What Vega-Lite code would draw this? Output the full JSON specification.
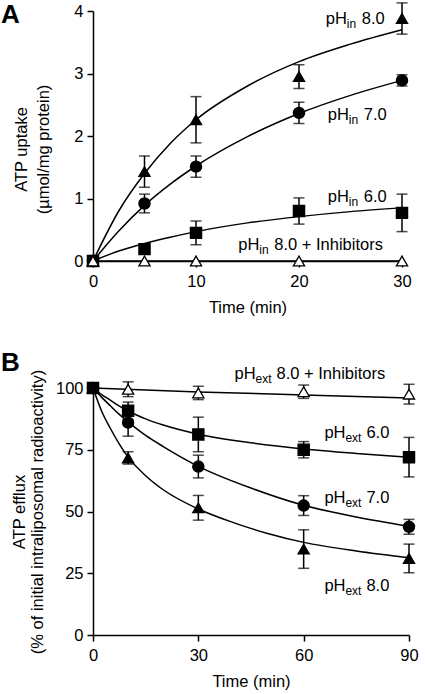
{
  "$schema": "https://vega.github.io/schema/vega-lite/v6.json",
  "padding": {"left": 1, "top": 2, "right": 4, "bottom": 2},
  "background": "white",
  "spacing": 127,
  "bounds": "flush",
  "config": {
    "view": {"stroke": null},
    "font": "Liberation Sans",
    "axis": {"domainColor": "black", "domainWidth": 1.5, "tickColor": "black", "tickWidth": 1.5, "tickSize": 6, "labelColor": "black", "labelFontSize": 16.5, "labelFont": "Liberation Sans", "labelFlush": false, "titleColor": "black", "titleFontSize": 16.5, "titleFont": "Liberation Sans", "titleFontWeight": "normal", "grid": false},
    "title": {"font": "Liberation Sans", "fontSize": 26, "fontWeight": "bold", "anchor": "start", "frame": "group", "color": "black"}
  },
  "datasets": {
    "up": [
      {"t": 0, "v": 0, "err": 0, "series": "pH 8.0"},
      {"t": 5, "v": 1.43, "err": 0.25, "series": "pH 8.0"},
      {"t": 10, "v": 2.26, "err": 0.37, "series": "pH 8.0"},
      {"t": 20, "v": 2.95, "err": 0.19, "series": "pH 8.0"},
      {"t": 30, "v": 3.88, "err": 0.25, "series": "pH 8.0"},
      {"t": 0, "v": 0, "err": 0, "series": "pH 7.0"},
      {"t": 5, "v": 0.92, "err": 0.15, "series": "pH 7.0"},
      {"t": 10, "v": 1.51, "err": 0.17, "series": "pH 7.0"},
      {"t": 20, "v": 2.37, "err": 0.17, "series": "pH 7.0"},
      {"t": 30, "v": 2.89, "err": 0.09, "series": "pH 7.0"},
      {"t": 0, "v": 0, "err": 0, "series": "pH 6.0"},
      {"t": 5, "v": 0.19, "err": 0.05, "series": "pH 6.0"},
      {"t": 10, "v": 0.45, "err": 0.19, "series": "pH 6.0"},
      {"t": 20, "v": 0.8, "err": 0.21, "series": "pH 6.0"},
      {"t": 30, "v": 0.77, "err": 0.3, "series": "pH 6.0"},
      {"t": 0, "v": 0, "err": 0, "series": "Inhibitors"},
      {"t": 5, "v": 0, "err": 0, "series": "Inhibitors"},
      {"t": 10, "v": 0, "err": 0, "series": "Inhibitors"},
      {"t": 20, "v": 0, "err": 0, "series": "Inhibitors"},
      {"t": 30, "v": 0, "err": 0, "series": "Inhibitors"}
    ],
    "upFit": [
      {"t": 0, "v": 0, "series": "pH 8.0"}, {"t": 2.5, "v": 0.8, "series": "pH 8.0"}, {"t": 5, "v": 1.4, "series": "pH 8.0"}, {"t": 7.5, "v": 1.88, "series": "pH 8.0"}, {"t": 10, "v": 2.26, "series": "pH 8.0"}, {"t": 15, "v": 2.8, "series": "pH 8.0"}, {"t": 20, "v": 3.19, "series": "pH 8.0"}, {"t": 25, "v": 3.47, "series": "pH 8.0"}, {"t": 30, "v": 3.7, "series": "pH 8.0"},
      {"t": 0, "v": 0, "series": "pH 7.0"}, {"t": 2.5, "v": 0.48, "series": "pH 7.0"}, {"t": 5, "v": 0.89, "series": "pH 7.0"}, {"t": 7.5, "v": 1.23, "series": "pH 7.0"}, {"t": 10, "v": 1.52, "series": "pH 7.0"}, {"t": 15, "v": 1.99, "series": "pH 7.0"}, {"t": 20, "v": 2.36, "series": "pH 7.0"}, {"t": 25, "v": 2.65, "series": "pH 7.0"}, {"t": 30, "v": 2.89, "series": "pH 7.0"},
      {"t": 0, "v": 0, "series": "pH 6.0"}, {"t": 2.5, "v": 0.16, "series": "pH 6.0"}, {"t": 5, "v": 0.28, "series": "pH 6.0"}, {"t": 7.5, "v": 0.38, "series": "pH 6.0"}, {"t": 10, "v": 0.47, "series": "pH 6.0"}, {"t": 15, "v": 0.61, "series": "pH 6.0"}, {"t": 20, "v": 0.71, "series": "pH 6.0"}, {"t": 25, "v": 0.79, "series": "pH 6.0"}, {"t": 30, "v": 0.85, "series": "pH 6.0"},
      {"t": 0, "v": 0, "series": "Inhibitors"}, {"t": 30, "v": 0, "series": "Inhibitors"}
    ],
    "upLabels": [
      {"t": 22.6, "v": 3.79, "sub": "in", "post": "8.0"},
      {"t": 22.8, "v": 2.26, "sub": "in", "post": "7.0"},
      {"t": 22.8, "v": 0.94, "sub": "in", "post": "6.0"},
      {"t": 14.1, "v": 0.18, "sub": "in", "post": "8.0 + Inhibitors"}
    ],
    "ef": [
      {"t": 0, "v": 100, "err": 0, "series": "Inhibitors"},
      {"t": 10, "v": 99.5, "err": 3, "series": "Inhibitors"},
      {"t": 30, "v": 98, "err": 2.7, "series": "Inhibitors"},
      {"t": 60, "v": 98.5, "err": 2.7, "series": "Inhibitors"},
      {"t": 90, "v": 97.5, "err": 4, "series": "Inhibitors"},
      {"t": 0, "v": 100, "err": 0, "series": "pH 8.0"},
      {"t": 10, "v": 71.7, "err": 2.5, "series": "pH 8.0"},
      {"t": 30, "v": 51.5, "err": 5, "series": "pH 8.0"},
      {"t": 60, "v": 34.8, "err": 7.8, "series": "pH 8.0"},
      {"t": 90, "v": 31, "err": 5.8, "series": "pH 8.0"},
      {"t": 0, "v": 100, "err": 0, "series": "pH 7.0"},
      {"t": 10, "v": 86, "err": 5.5, "series": "pH 7.0"},
      {"t": 30, "v": 68.2, "err": 4.6, "series": "pH 7.0"},
      {"t": 60, "v": 52.4, "err": 4, "series": "pH 7.0"},
      {"t": 90, "v": 43.8, "err": 3, "series": "pH 7.0"},
      {"t": 0, "v": 100, "err": 0, "series": "pH 6.0"},
      {"t": 10, "v": 90.8, "err": 3.5, "series": "pH 6.0"},
      {"t": 30, "v": 81.2, "err": 7, "series": "pH 6.0"},
      {"t": 60, "v": 75, "err": 3.3, "series": "pH 6.0"},
      {"t": 90, "v": 72, "err": 8, "series": "pH 6.0"}
    ],
    "efFit": [
      {"t": 0, "v": 100, "series": "Inhibitors"}, {"t": 30, "v": 98.4, "series": "Inhibitors"}, {"t": 60, "v": 97.2, "series": "Inhibitors"}, {"t": 90, "v": 96, "series": "Inhibitors"},
      {"t": 0, "v": 100, "series": "pH 8.0"}, {"t": 2.5, "v": 90.5, "series": "pH 8.0"}, {"t": 5, "v": 83.5, "series": "pH 8.0"}, {"t": 7.5, "v": 77.3, "series": "pH 8.0"}, {"t": 10, "v": 72, "series": "pH 8.0"}, {"t": 15, "v": 64.5, "series": "pH 8.0"}, {"t": 20, "v": 58.8, "series": "pH 8.0"}, {"t": 30, "v": 51, "series": "pH 8.0"}, {"t": 40, "v": 45.5, "series": "pH 8.0"}, {"t": 50, "v": 41, "series": "pH 8.0"}, {"t": 60, "v": 37.5, "series": "pH 8.0"}, {"t": 75, "v": 34, "series": "pH 8.0"}, {"t": 90, "v": 31.3, "series": "pH 8.0"},
      {"t": 0, "v": 100, "series": "pH 7.0"}, {"t": 2.5, "v": 96.2, "series": "pH 7.0"}, {"t": 5, "v": 92.7, "series": "pH 7.0"}, {"t": 7.5, "v": 89.3, "series": "pH 7.0"}, {"t": 10, "v": 86.3, "series": "pH 7.0"}, {"t": 15, "v": 80.8, "series": "pH 7.0"}, {"t": 20, "v": 76.3, "series": "pH 7.0"}, {"t": 30, "v": 68.3, "series": "pH 7.0"}, {"t": 45, "v": 59.5, "series": "pH 7.0"}, {"t": 60, "v": 52.5, "series": "pH 7.0"}, {"t": 75, "v": 47.8, "series": "pH 7.0"}, {"t": 90, "v": 44, "series": "pH 7.0"},
      {"t": 0, "v": 100, "series": "pH 6.0"}, {"t": 2.5, "v": 97.3, "series": "pH 6.0"}, {"t": 5, "v": 95, "series": "pH 6.0"}, {"t": 7.5, "v": 92.7, "series": "pH 6.0"}, {"t": 10, "v": 90.7, "series": "pH 6.0"}, {"t": 15, "v": 87.5, "series": "pH 6.0"}, {"t": 20, "v": 85, "series": "pH 6.0"}, {"t": 30, "v": 81.3, "series": "pH 6.0"}, {"t": 45, "v": 77.8, "series": "pH 6.0"}, {"t": 60, "v": 75.3, "series": "pH 6.0"}, {"t": 75, "v": 73.5, "series": "pH 6.0"}, {"t": 90, "v": 72, "series": "pH 6.0"}
    ],
    "efLabels": [
      {"t": 40.3, "v": 103.6, "sub": "ext", "post": "8.0 + Inhibitors"},
      {"t": 65.9, "v": 79.8, "sub": "ext", "post": "6.0"},
      {"t": 65.9, "v": 53.5, "sub": "ext", "post": "7.0"},
      {"t": 65.9, "v": 17.8, "sub": "ext", "post": "8.0"}
    ]
  },
  "vconcat": [
    {
      "width": 309,
      "height": 250,
      "title": {"text": "A", "dx": -92, "offset": -26},
      "layer": [
        {
          "data": {"name": "upFit"},
          "mark": {"type": "line", "interpolate": "monotone", "color": "black", "strokeWidth": 1.5},
          "encoding": {
            "x": {"field": "t", "type": "quantitative", "title": "Time (min)", "scale": {"domain": [0, 30], "nice": false}, "axis": {"values": [0, 10, 20, 30], "labelPadding": 6, "titlePadding": 10, "labelFlush": false}},
            "y": {"field": "v", "type": "quantitative", "title": ["ATP uptake", "(µmol/mg protein)"], "scale": {"domain": [0, 4], "nice": false}, "axis": {"values": [0, 1, 2, 3, 4], "format": "d", "titlePadding": 22, "labelPadding": 4, "titleLineHeight": 22, "titleY": 138, "labelFlush": false}},
            "detail": {"field": "series"}
          }
        },
        {
          "data": {"name": "up"},
          "transform": [{"filter": "datum.err > 0"}],
          "mark": {"type": "errorbar", "color": "black", "ticks": {"size": 11, "thickness": 1.5, "color": "black"}, "rule": {"strokeWidth": 1.5}},
          "encoding": {
            "x": {"field": "t", "type": "quantitative", "title": "Time (min)"},
            "y": {"field": "v", "type": "quantitative", "title": ["ATP uptake", "(µmol/mg protein)"]},
            "yError": {"field": "err"}
          }
        },
        {
          "data": {"name": "up"},
          "mark": {"type": "point", "size": 125, "stroke": "black", "strokeWidth": 1.3, "opacity": 1, "fillOpacity": 1},
          "encoding": {
            "x": {"field": "t", "type": "quantitative", "title": "Time (min)"},
            "y": {"field": "v", "type": "quantitative", "title": ["ATP uptake", "(µmol/mg protein)"]},
            "shape": {"field": "series", "type": "nominal", "scale": {"domain": ["pH 8.0", "pH 7.0", "pH 6.0", "Inhibitors"], "range": ["triangle-up", "circle", "square", "triangle-up"]}, "legend": null},
            "fill": {"field": "series", "type": "nominal", "scale": {"domain": ["pH 8.0", "pH 7.0", "pH 6.0", "Inhibitors"], "range": ["black", "black", "black", "white"]}, "legend": null}
          }
        },
        {
          "data": {"name": "upLabels"},
          "mark": {"type": "text", "text": "pH", "align": "left", "baseline": "alphabetic", "fontSize": 16.5, "color": "black"},
          "encoding": {"x": {"field": "t", "type": "quantitative", "title": "Time (min)"}, "y": {"field": "v", "type": "quantitative", "title": ["ATP uptake", "(µmol/mg protein)"]}}
        },
        {
          "data": {"name": "upLabels"},
          "mark": {"type": "text", "align": "left", "baseline": "alphabetic", "fontSize": 12, "dx": 21, "dy": 4, "color": "black"},
          "encoding": {"x": {"field": "t", "type": "quantitative", "title": "Time (min)"}, "y": {"field": "v", "type": "quantitative", "title": ["ATP uptake", "(µmol/mg protein)"]}, "text": {"field": "sub"}}
        },
        {
          "data": {"name": "upLabels"},
          "mark": {"type": "text", "align": "left", "baseline": "alphabetic", "fontSize": 16.5, "dx": 36, "color": "black"},
          "encoding": {"x": {"field": "t", "type": "quantitative", "title": "Time (min)"}, "y": {"field": "v", "type": "quantitative", "title": ["ATP uptake", "(µmol/mg protein)"]}, "text": {"field": "post"}}
        }
      ]
    },
    {
      "width": 316,
      "height": 247,
      "title": {"text": "B", "dx": -92, "offset": -10},
      "layer": [
        {
          "data": {"name": "efFit"},
          "mark": {"type": "line", "interpolate": "monotone", "color": "black", "strokeWidth": 1.5},
          "encoding": {
            "x": {"field": "t", "type": "quantitative", "title": "Time (min)", "scale": {"domain": [0, 90], "nice": false}, "axis": {"values": [0, 30, 60, 90], "labelPadding": 6, "titlePadding": 10, "labelFlush": false}},
            "y": {"field": "v", "type": "quantitative", "title": ["ATP efflux", "(% of initial intraliposomal radioactivity)"], "scale": {"domain": [0, 100], "nice": false}, "axis": {"values": [0, 25, 50, 75, 100], "titlePadding": 10, "labelPadding": 4, "titleLineHeight": 18, "labelFlush": false}},
            "detail": {"field": "series"}
          }
        },
        {
          "data": {"name": "ef"},
          "transform": [{"filter": "datum.err > 0"}],
          "mark": {"type": "errorbar", "color": "black", "ticks": {"size": 11, "thickness": 1.5, "color": "black"}, "rule": {"strokeWidth": 1.5}},
          "encoding": {
            "x": {"field": "t", "type": "quantitative", "title": "Time (min)"},
            "y": {"field": "v", "type": "quantitative", "title": ["ATP efflux", "(% of initial intraliposomal radioactivity)"]},
            "yError": {"field": "err"}
          }
        },
        {
          "data": {"name": "ef"},
          "mark": {"type": "point", "size": 125, "stroke": "black", "strokeWidth": 1.3, "opacity": 1, "fillOpacity": 1},
          "encoding": {
            "x": {"field": "t", "type": "quantitative", "title": "Time (min)"},
            "y": {"field": "v", "type": "quantitative", "title": ["ATP efflux", "(% of initial intraliposomal radioactivity)"]},
            "shape": {"field": "series", "type": "nominal", "scale": {"domain": ["pH 8.0", "pH 7.0", "pH 6.0", "Inhibitors"], "range": ["triangle-up", "circle", "square", "triangle-up"]}, "legend": null},
            "fill": {"field": "series", "type": "nominal", "scale": {"domain": ["pH 8.0", "pH 7.0", "pH 6.0", "Inhibitors"], "range": ["black", "black", "black", "white"]}, "legend": null}
          }
        },
        {
          "data": {"name": "efLabels"},
          "mark": {"type": "text", "text": "pH", "align": "left", "baseline": "alphabetic", "fontSize": 16.5, "color": "black"},
          "encoding": {"x": {"field": "t", "type": "quantitative", "title": "Time (min)"}, "y": {"field": "v", "type": "quantitative", "title": ["ATP efflux", "(% of initial intraliposomal radioactivity)"]}}
        },
        {
          "data": {"name": "efLabels"},
          "mark": {"type": "text", "align": "left", "baseline": "alphabetic", "fontSize": 12, "dx": 21, "dy": 4, "color": "black"},
          "encoding": {"x": {"field": "t", "type": "quantitative", "title": "Time (min)"}, "y": {"field": "v", "type": "quantitative", "title": ["ATP efflux", "(% of initial intraliposomal radioactivity)"]}, "text": {"field": "sub"}}
        },
        {
          "data": {"name": "efLabels"},
          "mark": {"type": "text", "align": "left", "baseline": "alphabetic", "fontSize": 16.5, "dx": 42, "color": "black"},
          "encoding": {"x": {"field": "t", "type": "quantitative", "title": "Time (min)"}, "y": {"field": "v", "type": "quantitative", "title": ["ATP efflux", "(% of initial intraliposomal radioactivity)"]}, "text": {"field": "post"}}
        }
      ]
    }
  ]
}
